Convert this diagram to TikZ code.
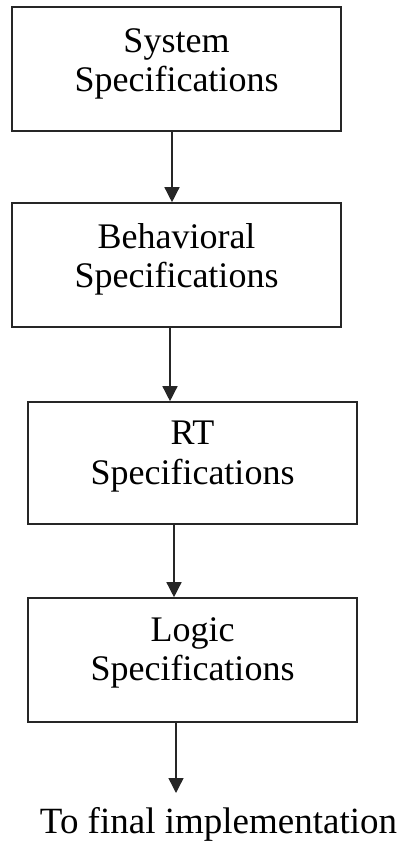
\documentclass[tikz,border=0pt]{standalone}
\usepackage{fontspec}
\setmainfont{Liberation Serif}
\usetikzlibrary{arrows.meta}
\begin{document}
\begin{tikzpicture}[x=1pt,y=-1pt,
  stagebox/.style={draw=black!85,line width=1.6pt,rectangle,inner sep=0pt},
  stagetext/.style={anchor=base,inner sep=0pt,font=\fontsize{36}{39}\selectfont},
  flow/.style={draw=black!85,line width=1.4pt,-{Triangle[width=15pt,length=15pt]}}]
\useasboundingbox (0,0) rectangle (402,848);
% stage boxes
\node[stagebox,minimum width=329pt,minimum height=124pt] (sys) at (176.5,69) {};
\node[stagebox,minimum width=329pt,minimum height=124pt] (beh) at (176.5,265) {};
\node[stagebox,minimum width=329pt,minimum height=122pt] (rt)  at (192.5,463) {};
\node[stagebox,minimum width=329pt,minimum height=124pt] (lgc) at (192.5,660) {};
% stage captions, baselines measured down from the top edge of each box
\node[stagetext] (systxt)  at ([yshift=-46pt]sys.north) {System};
\node[stagetext] (systxtb) at ([yshift=-85pt]sys.north) {Specifications};
\node[stagetext] (behtxt)  at ([yshift=-46pt]beh.north) {Behavioral};
\node[stagetext] (behtxtb) at ([yshift=-85pt]beh.north) {Specifications};
\node[stagetext] (rttxt)   at ([yshift=-43pt]rt.north)  {RT};
\node[stagetext] (rttxtb)  at ([yshift=-83pt]rt.north)  {Specifications};
\node[stagetext] (lgctxt)  at ([yshift=-44pt]lgc.north) {Logic};
\node[stagetext] (lgctxtb) at ([yshift=-83pt]lgc.north) {Specifications};
% output label
\node[font=\fontsize{37}{40}\selectfont,anchor=base,inner sep=0pt] (final) at (218.5,833) {To final implementation};
\coordinate (out) at (176,793);
% connectors
\draw[flow] ([xshift=-4.5pt]sys.south) -- ([xshift=-4.5pt]sys.south |- beh.north);
\draw[flow] ([xshift=-6.5pt]beh.south) -- ([xshift=-6.5pt]beh.south |- rt.north);
\draw[flow] ([xshift=-18.5pt]rt.south) -- ([xshift=-18.5pt]rt.south |- lgc.north);
\draw[flow] (lgc.south -| out) -- (out);
\end{tikzpicture}
\end{document}
